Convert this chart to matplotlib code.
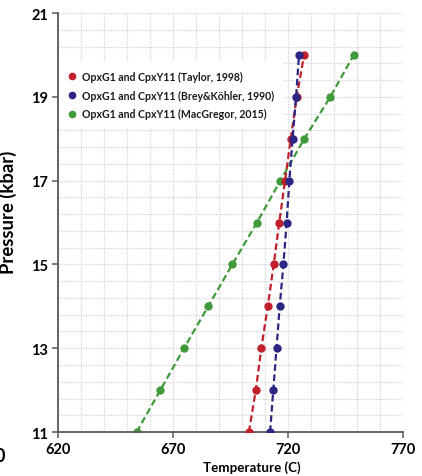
import matplotlib.pyplot as plt
import numpy as np

plt.rcParams['font.family'] = ['Lato', 'DejaVu Sans']

pressure = [11, 12, 13, 14, 15, 16, 17, 18, 19, 20]
t_taylor = [703.0, 706.0, 708.4, 711.2, 713.8, 716.2, 718.7, 721.2, 723.8, 727.0]
t_brey = [712.2, 713.6, 715.0, 716.4, 718.0, 719.4, 720.6, 722.0, 723.5, 724.8]
t_macg = [654.2, 664.5, 674.8, 685.3, 695.8, 706.5, 716.7, 727.1, 738.4, 748.6]

labels = ["OpxG1 and CpxY11 (Taylor, 1998)",
          "OpxG1 and CpxY11 (Brey&Köhler, 1990)",
          "OpxG1 and CpxY11 (MacGregor, 2015)"]
colors = ["#c01f2b", "#2b2683", "#3f9a3a"]

fig = plt.figure(figsize=(4.22, 4.77), dpi=100)
ax = fig.add_axes([0.1374, 0.0922, 0.8176, 0.8784])

# grid first
for x in np.arange(630, 771, 10):
	ax.axvline(x, color="#d4d4d4", lw=0.9, ls=(0, (1, 1)), zorder=0)
for y in np.arange(11.4, 21.01, 0.4):
	ax.axhline(y, color="#d4d4d4", lw=0.9, ls=(0, (1, 1)), zorder=0)

for t, c, z in [(t_macg, colors[2], 2), (t_taylor, colors[0], 3), (t_brey, colors[1], 4)]:
	ax.plot(t, pressure, ls="--", lw=1.6, color=c, zorder=z, dashes=(3, 1.6))
	ax.plot(t, pressure, ls="none", marker="o", ms=5, color=c, zorder=z)

handles = [ax.plot([], [], ls="none", marker="o", ms=4.5, color=c)[0] for c in colors]
leg = ax.legend(handles, labels, loc="upper left", bbox_to_anchor=(-0.02, 0.897),
	frameon=True, fancybox=False, handletextpad=0.3, handlelength=1.2,
	labelspacing=0.72, borderpad=0.9, prop={"size": 7.6, "weight": "bold"})
leg.get_frame().set_facecolor("white")
leg.get_frame().set_edgecolor("none")
leg.get_frame().set_alpha(1)
leg.set_zorder(1)
for txt in leg.get_texts():
	txt.set_color("#1a1a1a")

ax.set_xlim(620, 770)
ax.set_ylim(11, 21)
ax.set_xticks([620, 670, 720, 770])
ax.set_yticks([11, 13, 15, 17, 19, 21])
ax.tick_params(axis="both", direction="out", length=4, width=1.1, color="#595959",
	labelsize=10.5, pad=3)
for lab in ax.get_xticklabels() + ax.get_yticklabels():
	lab.set_fontweight("bold")
for s in ["top", "right"]:
	ax.spines[s].set_visible(False)
for s in ["left", "bottom"]:
	ax.spines[s].set_color("#595959")
	ax.spines[s].set_linewidth(1.3)

ax.set_xlabel("Temperature (C)", fontsize=9.6, fontweight="bold", labelpad=4)
ax.xaxis.set_label_coords(0.562, -0.068)
ax.set_ylabel("Pressure (kbar)", fontsize=13.3, fontweight="bold")
ax.yaxis.set_label_coords(-0.118, 0.527)

fig.text(-0.012, 0.032, "0", fontsize=13, fontweight="bold")

fig.savefig("out.png", dpi=100)
